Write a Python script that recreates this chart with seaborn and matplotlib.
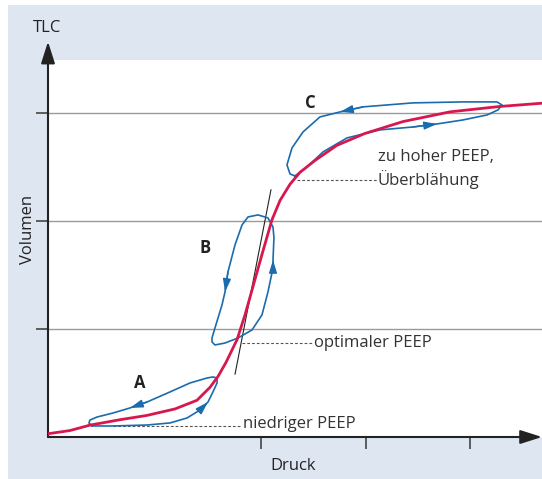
import matplotlib
matplotlib.use("Agg")
import matplotlib.pyplot as plt
import seaborn as sns
from matplotlib.patches import Rectangle

# Druck-Volumen-Kurve
kurve_druck = [0.0, 2.10, 4.00, 6.86, 9.43, 12.10, 14.19, 15.43, 16.19, 16.95, 18.00,
               18.76, 19.43, 20.38, 21.33, 22.10, 23.05, 24.00, 25.43, 27.52, 30.19,
               33.81, 38.29, 43.05, 47.05]
kurve_volumen = [0.03, 0.06, 0.11, 0.16, 0.20, 0.26, 0.34, 0.46, 0.56, 0.69, 0.90,
                 1.13, 1.36, 1.69, 2.01, 2.19, 2.34, 2.45, 2.56, 2.70, 2.81,
                 2.92, 3.01, 3.06, 3.09]

# Beatmungsschleifen A, B, C
schleife_a_x = [4.19, 6.19, 9.43, 11.62, 13.24, 14.48, 15.24, 15.71, 16.10, 16.10, 15.71,
                15.14, 13.52, 11.62, 9.43, 7.81, 6.19, 4.67, 4.00, 3.90, 4.19]
schleife_a_y = [0.102, 0.102, 0.111, 0.130, 0.176, 0.250, 0.324, 0.417, 0.500, 0.546, 0.556,
                0.546, 0.500, 0.417, 0.324, 0.269, 0.222, 0.185, 0.157, 0.130, 0.102]
schleife_b_x = [18.10, 19.43, 20.38, 20.95, 21.43, 21.43, 21.52, 21.43, 20.95, 20.00, 19.05,
                18.48, 17.81, 17.14, 16.86, 16.57, 15.90, 15.62, 15.62, 15.90, 16.86, 18.10]
schleife_b_y = [0.917, 0.991, 1.130, 1.343, 1.565, 1.639, 1.843, 1.944, 2.028, 2.056, 2.037,
                1.963, 1.778, 1.528, 1.343, 1.222, 1.009, 0.917, 0.880, 0.852, 0.870, 0.917]
schleife_c_x = [23.52, 24.67, 26.19, 28.48, 31.62, 34.76, 37.05, 39.52, 41.81, 42.86, 43.24,
                42.76, 39.52, 34.76, 30.00, 27.81, 25.90, 24.29, 23.24, 22.76, 23.05, 23.52]
schleife_c_y = [2.417, 2.500, 2.639, 2.769, 2.843, 2.870, 2.898, 2.935, 2.981, 3.028, 3.074,
                3.102, 3.102, 3.093, 3.056, 3.009, 2.963, 2.824, 2.676, 2.519, 2.435, 2.417]

# Pfeilspitzen: Segmentindex in der jeweiligen Schleife
pfeile_a = [5, 14]
pfeile_b = [4, 13]
pfeile_c = [5, 14]

# Tangente im Wendepunkt
tangente_x = [17.81, 21.24]
tangente_y = [0.58, 2.29]

# Achsen
x_ticks = [20.3, 30.3, 40.2]
y_ticks = [1, 2, 3]
x_max, y_max, y_pfeil = 47.05, 3.49, 3.66

# Beschriftungen PEEP: (x Start, x Ende, y)
peep_niedrig = (6.19, 18.5, 0.102)
peep_optimal = (18.48, 25.2, 0.87)
peep_hoch = (23.71, 31.3, 2.38)

ROT = "#d8174e"
BLAU = "#1a6cae"
HINTERGRUND = "#dee6f2"

sns.set_theme(style="white")
plt.rcParams['font.family'] = ['Open Sans', 'DejaVu Sans']
plt.rcParams['lines.solid_joinstyle'] = 'round'
plt.rcParams['lines.solid_capstyle'] = 'round'

fig = plt.figure(figsize=(5.42, 4.79), dpi=100, facecolor="white")
fig.add_artist(Rectangle((8 / 542, 0), 1, (479 - 5) / 479, transform=fig.transFigure,
                         facecolor=HINTERGRUND, edgecolor="none", zorder=-10))
ax = fig.add_axes([48 / 542, 42 / 479, 494 / 542, 377 / 479])
ax.set_facecolor("white")
ax.set_xlim(0, x_max)
ax.set_ylim(0, y_max)
for s in ax.spines.values():
    s.set_visible(False)

# Gitterlinien
for y in y_ticks:
    ax.axhline(y, color="#9a9a9a", lw=1.0, zorder=1, solid_capstyle='butt')
ax.set_xticks([])
ax.set_yticks([])

# Schleifen
for sx, sy, idx in [(schleife_a_x, schleife_a_y, pfeile_a),
                    (schleife_b_x, schleife_b_y, pfeile_b),
                    (schleife_c_x, schleife_c_y, pfeile_c)]:
    sns.lineplot(x=sx, y=sy, sort=False, estimator=None, color=BLAU, lw=1.2, ax=ax, zorder=3)
    for i in idx:
        ax.annotate("", xy=(sx[i + 1], sy[i + 1]), xytext=(sx[i], sy[i]),
                    arrowprops=dict(arrowstyle="-|>,head_length=0.65,head_width=0.2",
                                    color=BLAU, lw=1.0, shrinkA=0, shrinkB=0), zorder=4)

# Tangente
ax.plot(tangente_x, tangente_y, color="#222222", lw=0.8, zorder=2)

# Druck-Volumen-Kurve
sns.lineplot(x=kurve_druck, y=kurve_volumen, sort=False, estimator=None,
             color=ROT, lw=2.0, ax=ax, zorder=5)

# PEEP Hinweislinien
for x0, x1, y in [peep_niedrig, peep_optimal, peep_hoch]:
    ax.plot([x0, x1], [y, y], color="#555555", lw=0.8, ls=(0, (2.5, 1.8)), zorder=2)

fs = 12
ax.text(peep_niedrig[1] + 0.1, peep_niedrig[2] + 0.02, "niedriger PEEP", fontsize=fs,
        va="center", ha="left", color="#333333")
ax.text(peep_optimal[1] + 0.1, peep_optimal[2], "optimaler PEEP", fontsize=fs,
        va="center", ha="left", color="#333333")
ax.text(peep_hoch[1] + 0.1, peep_hoch[2] + 0.1, "zu hoher PEEP,\nÜberblähung", fontsize=fs,
        va="center", ha="left", color="#333333", linespacing=1.35)

ax.text(8.76, 0.50, "A", fontsize=fs, fontweight="bold", ha="center", va="center", color="#222222")
ax.text(14.95, 1.75, "B", fontsize=fs, fontweight="bold", ha="center", va="center", color="#222222")
ax.text(24.95, 3.09, "C", fontsize=fs, fontweight="bold", ha="center", va="center", color="#222222")

# Achsen mit Pfeilen
ax.annotate("", xy=(0, y_pfeil), xytext=(0, 0), annotation_clip=False,
            arrowprops=dict(arrowstyle="-|>,head_length=1.1,head_width=0.35",
                            color="#222222", lw=1.5, shrinkA=0, shrinkB=0))
ax.annotate("", xy=(x_max, 0), xytext=(0, 0), annotation_clip=False,
            arrowprops=dict(arrowstyle="-|>,head_length=1.1,head_width=0.35",
                            color="#222222", lw=1.5, shrinkA=0, shrinkB=0))

# Tick-Striche
for y in y_ticks:
    ax.plot([-1.15, 0], [y, y], color="#444444", lw=1.2, clip_on=False, solid_capstyle='butt')
for x in x_ticks:
    ax.plot([x, x], [0, -0.11], color="#444444", lw=1.2, clip_on=False, solid_capstyle='butt')

ax.text(-0.1, 3.79, "TLC", fontsize=fs, ha="center", va="center", color="#222222")
ax.text(-1.9, 1.92, "Volumen", fontsize=fs, rotation=90, ha="center", va="center", color="#222222")
ax.text(23.33, -0.27, "Druck", fontsize=fs, ha="center", va="center", color="#222222")

fig.savefig("out.png", dpi=100, facecolor=fig.get_facecolor())
